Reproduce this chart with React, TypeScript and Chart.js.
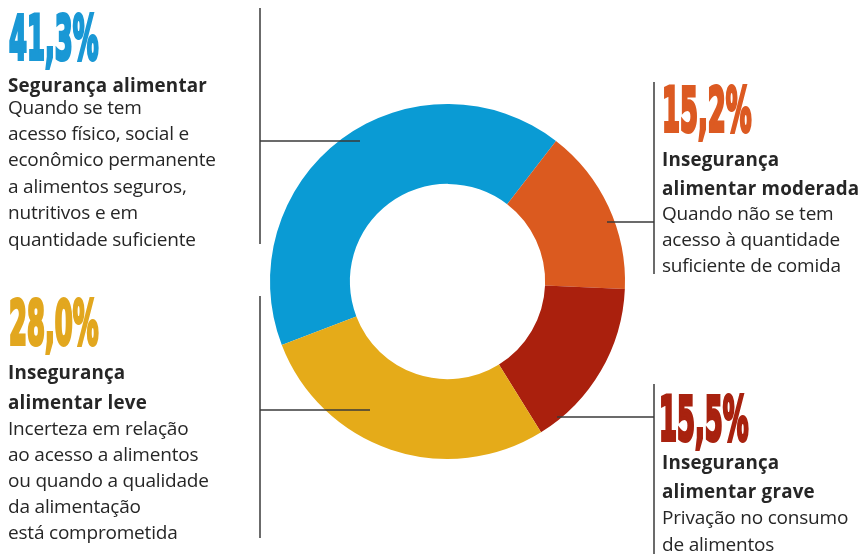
import React, { useEffect, useRef } from "react";
import { Chart, registerables } from "chart.js";

Chart.register(...registerables);

const categories = [
  "Segurança alimentar",
  "Insegurança alimentar moderada",
  "Insegurança alimentar grave",
  "Insegurança alimentar leve",
];
const values = [41.3, 15.2, 15.5, 28.0];
const colors = ["#0a9bd4", "#db5a1f", "#aa200d", "#e5ab19"];
const textColors = ["#1a98d5", "#dc5a22", "#a8220f", "#e2a71f"];
const valueLabels = ["41,3%", "15,2%", "15,5%", "28,0%"];
const headings = [
  ["Segurança alimentar"],
  ["Insegurança", "alimentar moderada"],
  ["Insegurança", "alimentar grave"],
  ["Insegurança", "alimentar leve"],
];
const descriptions = [
  ["Quando se tem", "acesso físico, social e", "econômico permanente", "a alimentos seguros,", "nutritivos e em", "quantidade suficiente"],
  ["Quando não se tem", "acesso à quantidade", "suficiente de comida"],
  ["Privação no consumo", "de alimentos"],
  ["Incerteza em relação", "ao acesso a alimentos", "ou quando a qualidade", "da alimentação", "está comprometida"],
];

// layout: text block positions (x, number x, top of number, centres of each text line)
const blockLayout = [
  { x: 8, numX: 9, numTop: 8, centers: [86, 108, 134, 160, 187, 213, 240] },
  { x: 662, numX: 662, numTop: 80, centers: [160, 189, 214, 240, 266] },
  { x: 662, numX: 659, numTop: 389, centers: [463, 492, 518, 545] },
  { x: 8, numX: 9, numTop: 293, centers: [373, 403, 429, 455, 481, 507, 533] },
];

// leader lines: [x1,y1,x2,y2]
const leaderLines = [
  [260, 8, 260, 244],
  [260, 141, 360, 141],
  [260, 296, 260, 538],
  [260, 410, 370, 410],
  [654, 82, 654, 274],
  [607, 222, 654, 222],
  [654, 384, 654, 554],
  [557, 417, 654, 417],
];

const leaderPlugin = {
  id: "leaders",
  afterDraw(chart: any) {
    const ctx = chart.ctx;
    ctx.save();
    ctx.strokeStyle = "#3a3a3a";
    ctx.lineWidth = 1.5;
    for (const [x1, y1, x2, y2] of leaderLines) {
      ctx.beginPath();
      ctx.moveTo(x1, y1);
      ctx.lineTo(x2, y2);
      ctx.stroke();
    }
    ctx.restore();
  },
};

export default function App() {
  const canvasRef = useRef<HTMLCanvasElement | null>(null);

  useEffect(() => {
    if (!canvasRef.current) return;
    const chart = new Chart(canvasRef.current, {
      type: "doughnut",
      data: {
        labels: categories,
        datasets: [
          {
            data: values,
            backgroundColor: colors,
            borderWidth: 0,
          },
        ],
      },
      options: {
        responsive: false,
        animation: false,
        rotation: -111,
        cutout: "55%",
        layout: { padding: { left: 270, right: 236, top: 104, bottom: 95 } },
        plugins: {
          legend: { display: false },
          tooltip: { enabled: false },
        },
      },
      plugins: [leaderPlugin],
    });
    return () => chart.destroy();
  }, []);

  const lineH = 26;
  const bodyFont = "'Open Sans', 'Noto Sans', sans-serif";

  return (
    <div
      style={{
        position: "fixed",
        left: 0,
        top: 0,
        width: 861,
        height: 554,
        background: "#ffffff",
        overflow: "hidden",
      }}
    >
      <canvas ref={canvasRef} width={861} height={554} style={{ position: "absolute", left: 0, top: 0 }} />
      {blockLayout.map((b, i) => {
        const lines = [
          ...headings[i].map((t) => ({ t, bold: true })),
          ...descriptions[i].map((t) => ({ t, bold: false })),
        ];
        return (
          <React.Fragment key={i}>
            <div
              style={{
                position: "absolute",
                left: b.numX,
                top: b.numTop,
                fontFamily: "'DejaVu Sans', 'Liberation Sans', sans-serif",
                fontWeight: 700,
                fontSize: 60,
                lineHeight: "60px",
                color: textColors[i],
                WebkitTextStroke: "4px " + textColors[i],
                transform: "scaleX(0.43)",
                transformOrigin: "left top",
                whiteSpace: "nowrap",
              } as any}
            >
              {valueLabels[i]}
            </div>
            {lines.map((ln, j) => (
              <div
                key={j}
                style={{
                  position: "absolute",
                  left: b.x,
                  top: b.centers[j] - 14,
                  height: lineH,
                  lineHeight: lineH + "px",
                  fontFamily: bodyFont,
                  fontWeight: ln.bold ? 700 : 400,
                  fontSize: ln.bold ? 18.8 : 19,
                  color: "#262626",
                  whiteSpace: "nowrap",
                  letterSpacing: ln.bold ? 0.2 : -0.2,
                }}
              >
                {ln.t}
              </div>
            ))}
          </React.Fragment>
        );
      })}
    </div>
  );
}
